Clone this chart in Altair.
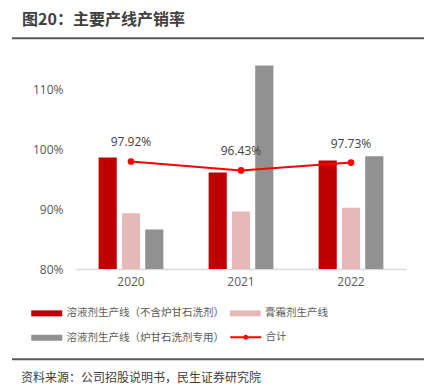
import altair as alt
import pandas as pd

years = ["2020", "2021", "2022"]
series_names = ["溶液剂生产线（不含炉甘石洗剂）", "膏霜剂生产线", "溶液剂生产线（炉甘石洗剂专用）"]
s1 = [98.57, 96.10, 98.10]
s2 = [89.28, 89.60, 90.20]
s3 = [86.60, 113.90, 98.80]
total_name = "合计"
total = [97.92, 96.43, 97.73]
bar_colors = ["#C00000", "#E6B9B8", "#919191"]
line_color = "#FF0000"
title_text = "图20：主要产线产销率"
source_text = "资料来源：公司招股说明书，民生证券研究院"
y_ticks = [80, 90, 100, 110]
y_base = 80

rows = []
for name, vals in zip(series_names, [s1, s2, s3]):
    for y, v in zip(years, vals):
        rows.append({"year": y, "series": name, "value": v})
bars_df = pd.DataFrame(rows)
line_df = pd.DataFrame({"year": years, "value": total, "name": [total_name] * 3,
                        "label": [f"{v:.2f}%" for v in total]})

# legend is filled column by column, so order entries to read row by row
legend_order = [series_names[0], series_names[2], series_names[1]]
legend_colors = [bar_colors[0], bar_colors[2], bar_colors[1]]

CJK = "Noto Sans CJK SC"
NUM = "Open Sans"

x_enc = alt.X("year:N", sort=years,
              scale=alt.Scale(paddingInner=0, paddingOuter=0),
              axis=alt.Axis(title=None, labelAngle=0, ticks=False, domainColor="#D9D9D9",
                            domainWidth=1.5, labelPadding=7, labelFontSize=12,
                            labelFont=NUM, labelColor="#595959"))
y_scale = alt.Scale(domain=[80, 115], nice=False, zero=False)
y_enc = alt.Y("value:Q", scale=y_scale,
              axis=alt.Axis(title=None, values=y_ticks, domain=False, ticks=False, grid=False,
                            labelExpr="datum.value + '%'", labelPadding=13, labelFontSize=12,
                            labelFont=NUM, labelColor="#595959"))

bar_sym = "M-3.1,-0.6L3.1,-0.6L3.1,0.6L-3.1,0.6Z"
line_sym = "M-3.1,-0.2L3.1,-0.2L3.1,0.2L-3.1,0.2Z M-0.5,0A0.5,0.5,0,1,1,0.5,0A0.5,0.5,0,1,1,-0.5,0Z"

bars = alt.Chart(bars_df).mark_bar().encode(
    x=x_enc,
    xOffset=alt.XOffset("series:N", sort=series_names,
                        scale=alt.Scale(paddingInner=0.22, paddingOuter=0.97)),
    y=y_enc,
    y2=alt.datum(y_base),
    color=alt.Color("series:N", sort=legend_order,
                    scale=alt.Scale(domain=legend_order, range=legend_colors),
                    legend=alt.Legend(title=None, orient="none", legendX=-34.5, legendY=249,
                                      columns=2, symbolType=bar_sym, symbolSize=100,
                                      symbolStrokeWidth=0, symbolOpacity=1, labelOffset=14.5,
                                      labelFont=CJK, labelFontSize=10.5, labelColor="#595959",
                                      labelLimit=400, columnPadding=4.5, rowPadding=13.5,
                                      padding=0)),
)

line = alt.Chart(line_df).mark_line(color=line_color, strokeWidth=2).encode(
    x=alt.X("year:N", sort=years), y=alt.Y("value:Q", scale=y_scale))

points = alt.Chart(line_df).mark_point(filled=True, size=45, opacity=1).encode(
    x=alt.X("year:N", sort=years), y=alt.Y("value:Q", scale=y_scale),
    color=alt.Color("name:N", scale=alt.Scale(domain=[total_name], range=[line_color]),
                    legend=alt.Legend(title=None, orient="none", legendX=164.5, legendY=273,
                                      symbolType=line_sym, symbolSize=100, symbolStrokeWidth=0,
                                      symbolOpacity=1, labelOffset=14.5, labelFont=CJK,
                                      labelFontSize=10.5, labelColor="#595959", padding=0)),
)

labels = alt.Chart(line_df).mark_text(dy=-19, fontSize=12, font=NUM, color="#404040").encode(
    x=alt.X("year:N", sort=years), y=alt.Y("value:Q", scale=y_scale), text="label:N")

deco = pd.DataFrame({"t": [title_text]})
title = alt.Chart(deco).mark_text(align="left", baseline="middle", fontSize=16, fontWeight="bold",
                                  font=CJK, color="#404040").encode(
    text=alt.value(title_text), x=alt.value(-54), y=alt.value(-38.7))
rule_top = alt.Chart(deco).mark_rule(color="#595959", strokeWidth=2).encode(
    x=alt.value(-64), x2=alt.value(352), y=alt.value(-20.7))
rule_bot = alt.Chart(deco).mark_rule(color="#595959", strokeWidth=2).encode(
    x=alt.value(-64), x2=alt.value(352), y=alt.value(300.3))
source = alt.Chart(deco).mark_text(align="left", baseline="middle", fontSize=12, font=CJK,
                                   color="#404040").encode(
    text=alt.value(source_text), x=alt.value(-55), y=alt.value(319.3))

chart = alt.layer(bars, line, points, labels, title, rule_top, rule_bot, source).resolve_scale(
    color="independent").properties(
    width=330, height=210,
    autosize=alt.AutoSizeParams(type="none"),
    padding={"left": 68, "top": 51, "right": 18, "bottom": 115},
).configure_view(stroke=None)

chart.save("out.html", embed_options={"renderer": "svg", "actions": False})
